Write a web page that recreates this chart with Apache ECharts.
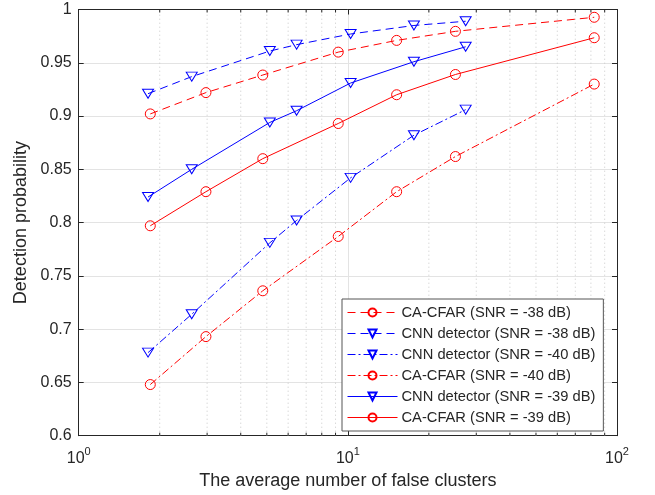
<!DOCTYPE html>
<html>
<head>
<meta charset="utf-8">
<script src="https://cdn.jsdelivr.net/npm/echarts@6/dist/echarts.min.js"></script>
<style>
  html, body { margin: 0; padding: 0; background: #fff; }
  #chart { width: 655px; height: 495px; }
</style>
</head>
<body>
<div id="chart"></div>
<script>
// x positions (average number of false clusters)
const xTri = [1.81, 2.63, 5.13, 6.45, 10.24, 17.6, 27.4];
const xCirc = [1.845, 2.97, 4.83, 9.21, 15.18, 25.1, 82.3];

// detection probabilities
const caCfar38 = [0.902, 0.922, 0.9385, 0.960, 0.971, 0.9795, 0.9927];
const cnn38 = [0.921, 0.937, 0.961, 0.967, 0.977, 0.985, 0.989];
const cnn40 = [0.678, 0.714, 0.781, 0.802, 0.842, 0.882, 0.906];
const caCfar40 = [0.648, 0.693, 0.736, 0.787, 0.829, 0.862, 0.930];
const cnn39 = [0.824, 0.850, 0.894, 0.905, 0.931, 0.951, 0.965];
const caCfar39 = [0.797, 0.829, 0.860, 0.893, 0.920, 0.939, 0.9735];

const seriesNames = [
  "CA-CFAR (SNR = -38 dB)",
  "CNN detector (SNR = -38 dB)",
  "CNN detector (SNR = -40 dB)",
  "CA-CFAR (SNR = -40 dB)",
  "CNN detector (SNR = -39 dB)",
  "CA-CFAR (SNR = -39 dB)"
];

// minor log grid positions
const minorX = [2, 3, 4, 5, 6, 7, 8, 9, 20, 30, 40, 50, 60, 70, 80, 90];

const RED = "#ff0000";
const BLUE = "#0000ff";
const DASH = [8, 5];
const DASHDOT = [8, 3, 2, 3];
const TXT = "#262626";
const FONT = "Liberation Sans";

const zip = (xs, ys) => xs.map((x, i) => [x, ys[i]]);

function lineSeries(name, xs, ys, color, dash, tri) {
  return {
    name: name,
    type: "line",
    data: zip(xs, ys),
    symbol: tri ? "triangle" : "circle",
    symbolRotate: tri ? 180 : 0,
    symbolSize: tri ? [11, 9] : 10,
    lineStyle: { color: color, width: 1, type: dash },
    itemStyle: { color: "rgba(0,0,0,0)", borderColor: color, borderWidth: 1 },
    emphasis: { disabled: true },
    z: 5
  };
}

const chart = echarts.init(document.getElementById("chart"));

chart.setOption({
  animation: false,
  textStyle: { fontFamily: FONT },
  grid: { left: 78.7, right: 38, top: 9.5, bottom: 59.3 },
  legend: {
    data: seriesNames,
    orient: "vertical",
    left: 342,
    top: 299,
    padding: [6, 8, 6, 5],
    itemWidth: 50,
    itemHeight: 10,
    itemGap: 6,
    backgroundColor: "#fff",
    borderColor: "#555",
    borderWidth: 1,
    borderRadius: 0,
    lineStyle: { width: 1 },
    textStyle: { fontSize: 14.7, color: TXT, fontFamily: FONT, padding: [0, 0, 0, -1] }
  },
  xAxis: [
    {
      type: "log",
      logBase: 10,
      min: 1,
      max: 100,
      name: "The average number of false clusters",
      nameLocation: "middle",
      nameGap: 36,
      nameTextStyle: { fontSize: 18, color: TXT, fontFamily: FONT },
      axisLine: { lineStyle: { color: TXT, width: 1 } },
      axisTick: { inside: true, length: 5, lineStyle: { color: TXT } },
      axisLabel: {
        margin: 11,
        color: TXT,
        formatter: v => "{b|10}{s|" + Math.round(Math.log10(v)) + "}",
        rich: {
          b: { fontSize: 16, color: TXT, fontFamily: FONT },
          s: { fontSize: 11, color: TXT, fontFamily: FONT, padding: [0, 0, 13, 0] }
        }
      },
      splitLine: { show: true, lineStyle: { color: "#e3e3e3", width: 1 } }
    },
    {
      type: "log",
      logBase: 10,
      min: 1,
      max: 100,
      position: "top",
      axisLine: { lineStyle: { color: TXT, width: 1 } },
      axisTick: { inside: true, length: 5, lineStyle: { color: TXT } },
      axisLabel: { show: false },
      splitLine: { show: false }
    }
  ],
  yAxis: [
    {
      type: "value",
      min: 0.6,
      max: 1,
      interval: 0.05,
      name: "Detection probability",
      nameLocation: "middle",
      nameGap: 37,
      nameTextStyle: { fontSize: 18, color: TXT, fontFamily: FONT },
      axisLine: { show: true, lineStyle: { color: TXT, width: 1 } },
      axisTick: { show: true, inside: true, length: 5, lineStyle: { color: TXT } },
      axisLabel: { fontSize: 16, color: TXT, margin: 7, fontFamily: FONT },
      splitLine: { show: true, lineStyle: { color: "#e3e3e3", width: 1 } }
    },
    {
      type: "value",
      min: 0.6,
      max: 1,
      interval: 0.05,
      position: "right",
      axisLine: { show: true, lineStyle: { color: TXT, width: 1 } },
      axisTick: { show: true, inside: true, length: 5, lineStyle: { color: TXT } },
      axisLabel: { show: false },
      splitLine: { show: false }
    }
  ],
  series: [
    {
      type: "custom",
      name: "minorGrid",
      silent: true,
      z: 1,
      data: minorX.map(v => [v]),
      renderItem: function (params, api) {
        const v = api.value(0);
        const pb = api.coord([v, 0.6]);
        const pt = api.coord([v, 1]);
        return {
          type: "group",
          children: [
            {
              type: "line",
              shape: { x1: pb[0], y1: pb[1], x2: pt[0], y2: pt[1] },
              style: { stroke: "#c8c8c8", lineWidth: 1, lineDash: [1, 3] }
            },
            {
              type: "line",
              shape: { x1: pb[0], y1: pb[1], x2: pb[0], y2: pb[1] - 3 },
              style: { stroke: TXT, lineWidth: 1 }
            },
            {
              type: "line",
              shape: { x1: pt[0], y1: pt[1], x2: pt[0], y2: pt[1] + 3 },
              style: { stroke: TXT, lineWidth: 1 }
            }
          ]
        };
      }
    },
    lineSeries(seriesNames[0], xCirc, caCfar38, RED, DASH, false),
    lineSeries(seriesNames[1], xTri, cnn38, BLUE, DASH, true),
    lineSeries(seriesNames[2], xTri, cnn40, BLUE, DASHDOT, true),
    lineSeries(seriesNames[3], xCirc, caCfar40, RED, DASHDOT, false),
    lineSeries(seriesNames[4], xTri, cnn39, BLUE, "solid", true),
    lineSeries(seriesNames[5], xCirc, caCfar39, RED, "solid", false)
  ]
});

window.addEventListener("resize", () => chart.resize());
</script>
</body>
</html>
